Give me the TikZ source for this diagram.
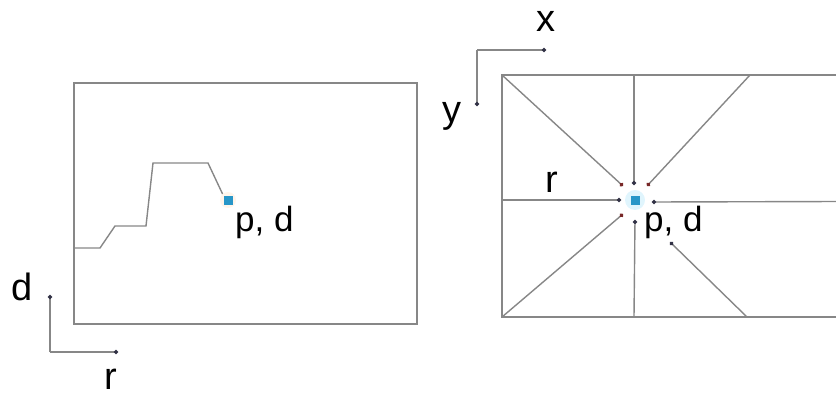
\documentclass[tikz,border=0pt]{standalone}
\usepackage{fontspec}
\setmainfont{Liberation Sans}
\usetikzlibrary{arrows.meta}
\definecolor{linegrey}{RGB}{135,135,135}
\definecolor{ptblue}{RGB}{40,150,200}
\definecolor{dotdark}{RGB}{50,50,70}
\definecolor{dotred}{RGB}{120,40,40}
\begin{document}
\begin{tikzpicture}[x=1pt,y=-1pt,
  frame/.style={draw=linegrey,line width=1.6pt},
  ray/.style={draw=linegrey,line width=1.4pt,-{Circle[length=4pt,color=dotdark]}},
  dray/.style={draw=linegrey,line width=1.4pt,-{Circle[length=4pt,color=dotred]}},
  axis/.style={draw=linegrey,line width=1.4pt,-{Circle[length=4pt,color=dotdark]}},
  lbl/.style={inner sep=0pt,anchor=base west,font=\fontsize{38}{40}\selectfont},
  pdlbl/.style={inner sep=0pt,anchor=base west,font=\fontsize{35}{37}\selectfont},
  pt/.style={fill=ptblue,minimum size=9pt,inner sep=0pt,draw=none},
  halo/.style={fill=cyan!12,draw=none,circle,minimum size=20pt,inner sep=0pt}
]
\useasboundingbox (0,0) rectangle (836,396);

% ---------- left panel ----------
\draw[frame] (74,83) rectangle (417,324);
\coordinate (c0) at (74,248);
\coordinate (c1) at (100,248);
\coordinate (c2) at (115,226);
\coordinate (c3) at (146,226);
\coordinate (c4) at (153,163);
\coordinate (c5) at (208,163);
\coordinate (c6) at (224,197);
\draw[draw=linegrey,line width=1.4pt] (c0)--(c1)--(c2)--(c3)--(c4)--(c5)--(c6);
\node[halo,minimum size=16pt,fill=orange!8] at (228,200) {};
\node[pt] (pL) at (228,200) {};
\node[pdlbl] (pdL) at (235,231) {p, d};

% left axes
\coordinate (oL) at (50,352);
\coordinate (dEnd) at (50,295);
\coordinate (rEnd) at (118,352);
\draw[axis] (oL) -- (dEnd);
\draw[axis] (oL) -- (rEnd);
\node[lbl] (dlab) at (11,300) {d};
\node[lbl] (rlab) at (104.5,389) {r};

% ---------- right panel ----------
\draw[frame] (840,75) -- (502,75) -- (502,317) -- (840,317);
\node[halo] (hal) at (635,200) {};
\coordinate (tl) at (502,75);
\coordinate (tm) at (634,75);
\coordinate (tr) at (750,75);
\coordinate (ml) at (502,200);
\coordinate (mr) at (840,201.5);
\coordinate (bl) at (502,317);
\coordinate (bm) at (634,317);
\coordinate (br) at (747,317);
\coordinate (etl) at (623,186);
\coordinate (etm) at (634,185);
\coordinate (etr) at (647,186);
\coordinate (eml) at (621,200);
\coordinate (emr) at (652,202);
\coordinate (ebl) at (623,214);
\coordinate (ebm) at (635,220);
\coordinate (ebr) at (670,242);
\draw[dray] (tl) -- (etl);
\draw[ray] (tm) -- (etm);
\draw[dray] (tr) -- (etr);
\draw[ray] (ml) -- (eml);
\draw[ray] (mr) -- (emr);
\draw[dray] (bl) -- (ebl);
\draw[ray] (bm) -- (ebm);
\draw[ray] (br) -- (ebr);
\node[pt] (pR) at (635,200) {};
\node[pdlbl] (pdR) at (644,231) {p, d};
\node[lbl] (rR) at (545.5,192.5) {r};

% right axes
\coordinate (oR) at (477,50);
\coordinate (xEnd) at (546,50);
\coordinate (yEnd) at (477,106);
\draw[axis] (oR) -- (xEnd);
\draw[axis] (oR) -- (yEnd);
\node[lbl] (xlab) at (536,31.5) {x};
\node[lbl] (ylab) at (442,122.5) {y};
\end{tikzpicture}
\end{document}
